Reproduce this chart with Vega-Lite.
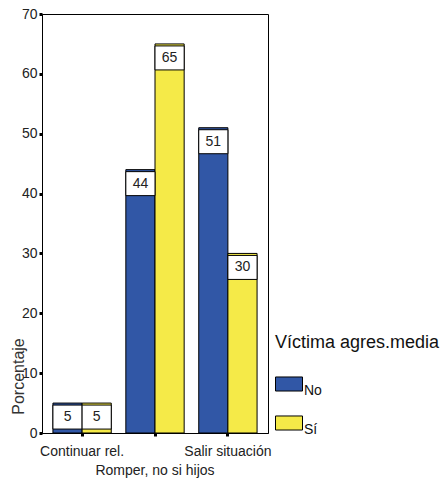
{
  "$schema": "https://vega.github.io/schema/vega-lite/v6.json",
  "autosize": "none",
  "width": 226,
  "height": 419,
  "padding": {"left": 42, "top": 14, "right": 176, "bottom": 47},
  "background": "white",
  "config": {
    "font": "Liberation Sans",
    "view": {"stroke": "black", "strokeWidth": 1},
    "axis": {
      "domainColor": "black",
      "tickColor": "black",
      "tickSize": 3,
      "tickWidth": 3,
      "labelColor": "#222222",
      "labelFontSize": 14,
      "titleColor": "#333333",
      "titleFontWeight": "normal",
      "grid": false
    }
  },
  "data": {
    "values": [
      {"respuesta": "Continuar rel.", "victima": "No", "pct": 5},
      {"respuesta": "Continuar rel.", "victima": "Sí", "pct": 5},
      {"respuesta": "Romper, no si hijos", "victima": "No", "pct": 44},
      {"respuesta": "Romper, no si hijos", "victima": "Sí", "pct": 65},
      {"respuesta": "Salir situación", "victima": "No", "pct": 51},
      {"respuesta": "Salir situación", "victima": "Sí", "pct": 30}
    ]
  },
  "encoding": {
    "x": {
      "field": "respuesta",
      "type": "nominal",
      "sort": null,
      "scale": {"paddingInner": 0.2, "paddingOuter": 0.15},
      "axis": {
        "title": null,
        "labelAngle": 0,
        "labelFontSize": 14,
        "labelPadding": {
          "condition": {"test": "datum.value === 'Romper, no si hijos'", "value": 27},
          "value": 8
        }
      }
    },
    "xOffset": {
      "field": "victima",
      "type": "nominal",
      "sort": ["No", "Sí"],
      "scale": {"paddingInner": 0, "paddingOuter": 0}
    },
    "y": {
      "field": "pct",
      "type": "quantitative",
      "scale": {"domain": [0, 70], "nice": false},
      "axis": {
        "title": "Porcentaje",
        "values": [0, 10, 20, 30, 40, 50, 60, 70],
        "labelPadding": 2,
        "titleFontSize": 16,
        "titleX": -24,
        "titleY": 362,
        "titleAngle": 270,
        "titleAlign": "center",
        "titleBaseline": "middle"
      }
    }
  },
  "layer": [
    {
      "mark": {"type": "bar", "stroke": "black", "strokeWidth": 1},
      "encoding": {
        "color": {
          "field": "victima",
          "type": "nominal",
          "sort": ["No", "Sí"],
          "scale": {"domain": ["No", "Sí"], "range": ["#3157A6", "#F5EA48"]},
          "legend": {
            "title": "Víctima agres.media",
            "orient": "none",
            "legendX": 233,
            "legendY": 320,
            "titleFontSize": 18,
            "titleFontWeight": "normal",
            "titleColor": "#111111",
            "titlePadding": 18,
            "labelFontSize": 14,
            "labelColor": "#111111",
            "labelOffset": 1,
            "labelBaseline": "top",
            "rowPadding": 11,
            "symbolType": "M-1,-0.52H1V0.52H-1Z",
            "symbolSize": 729,
            "symbolStrokeColor": "black",
            "symbolStrokeWidth": 1,
            "symbolOpacity": 1
          }
        }
      }
    },
    {
      "mark": {"type": "rect", "fill": "white", "stroke": "black", "strokeWidth": 1, "yOffset": 2, "y2Offset": 26},
      "encoding": {"y2": {"field": "pct"}}
    },
    {
      "mark": {"type": "text", "dy": 14, "baseline": "middle", "align": "center", "fontSize": 14, "color": "#222222"},
      "encoding": {"text": {"field": "pct", "type": "quantitative"}}
    }
  ]
}
